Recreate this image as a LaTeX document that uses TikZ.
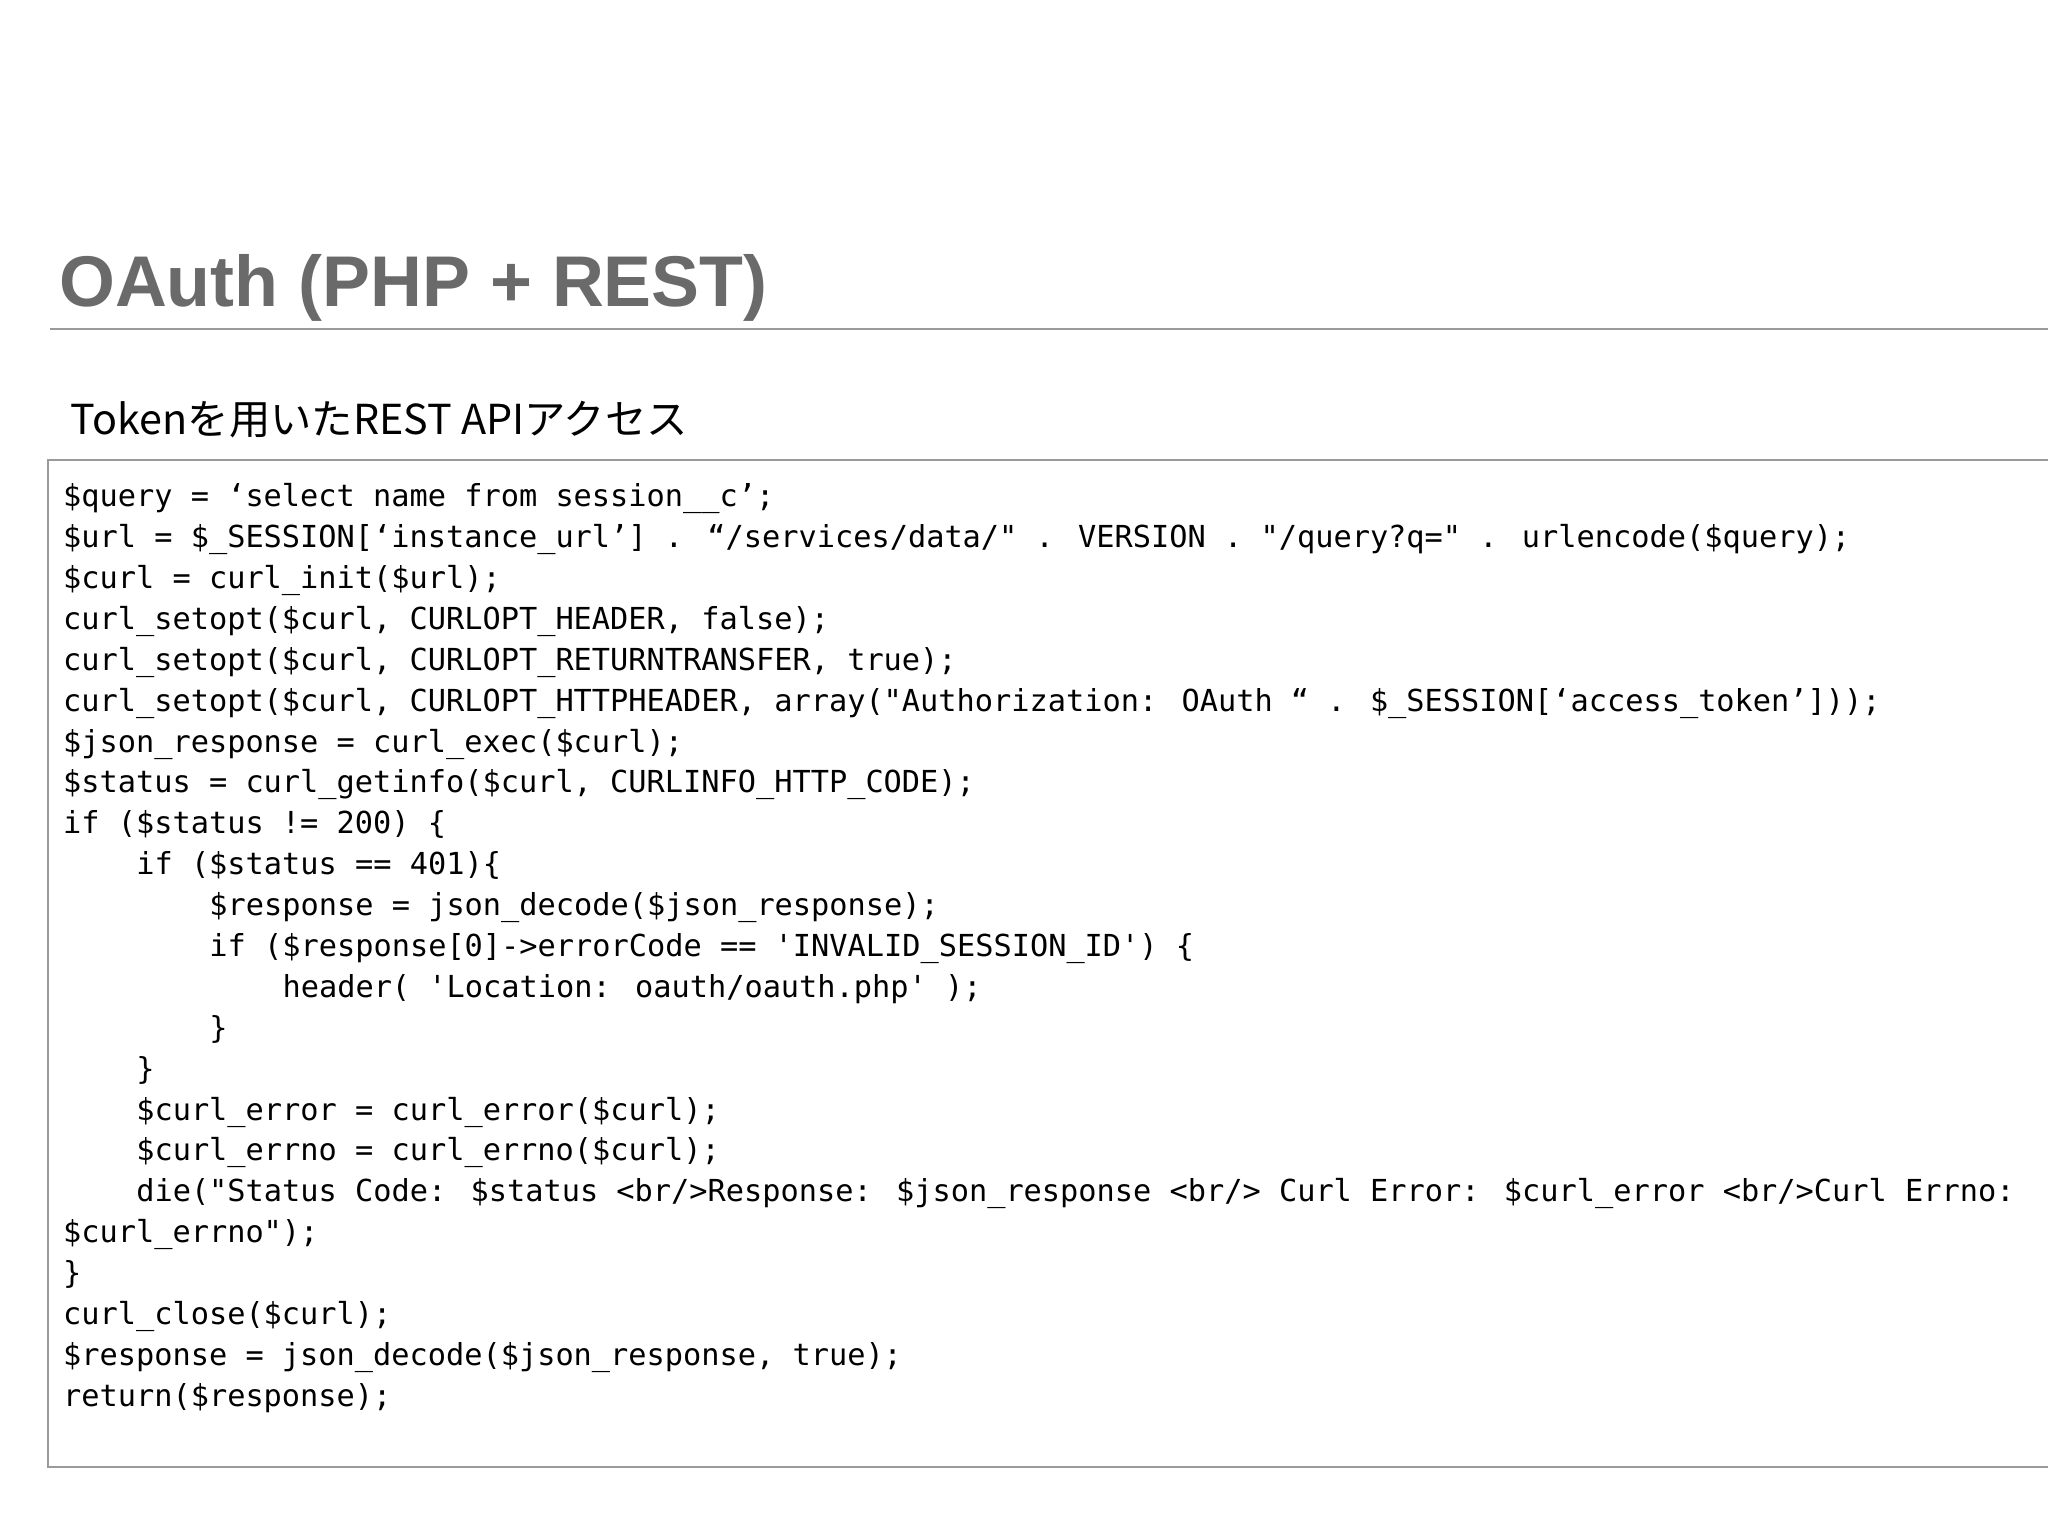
\documentclass[tikz,border=0pt]{standalone}
\usepackage{fontspec}
\setmainfont{Liberation Sans}
\newfontfamily\codefont{DejaVu Sans Mono}[Scale=1.0]
\newfontfamily\jpfont{Noto Sans CJK JP}
\definecolor{titlegray}{HTML}{6A6A6A}
\definecolor{boxgray}{HTML}{9A9A9A}
\begin{document}
\begin{tikzpicture}[x=0.02cm,y=-0.02cm,
  code/.style={anchor=base west,inner sep=0pt,font=\codefont\fontsize{13.2}{16}\selectfont}]
\useasboundingbox (0,0) rectangle (1568,1176);
\fill[white] (0,0) rectangle (1568,1176);
\node[anchor=base west,inner sep=0pt,text=titlegray,font=\bfseries\fontsize{31.3}{36}\selectfont] (title) at (45,235) {OAuth (PHP + REST)};
\draw[boxgray,line width=0.8pt] (38,252) -- (1568,252);
\node[anchor=base west,inner sep=0pt,font=\jpfont\fontsize{18}{22}\selectfont] (sub) at (54,333) {Tokenを用いたREST APIアクセス};
\draw[boxgray,line width=1pt] (1600,352) -- (37,352) -- (37,1123) -- (1600,1123);
\def\L#1#2#3{\node[code] (l#1) at (48+#2*56,388+#1*31.3-31.3) {#3};}
\L{1}{0}{\$query = ‘select name from session\_\_c’;}
\L{2}{0}{\$url = \$\_SESSION[‘instance\_url’] . “/services/data/" . VERSION . "/query?q=" . urlencode(\$query);}
\L{3}{0}{\$curl = curl\_init(\$url);}
\L{4}{0}{curl\_setopt(\$curl, CURLOPT\_HEADER, false);}
\L{5}{0}{curl\_setopt(\$curl, CURLOPT\_RETURNTRANSFER, true);}
\L{6}{0}{curl\_setopt(\$curl, CURLOPT\_HTTPHEADER, array("Authorization: OAuth “ . \$\_SESSION[‘access\_token’]));}
\L{7}{0}{\$json\_response = curl\_exec(\$curl);}
\L{8}{0}{\$status = curl\_getinfo(\$curl, CURLINFO\_HTTP\_CODE);}
\L{9}{0}{if (\$status != 200) \{}
\L{10}{1}{if (\$status == 401)\{}
\L{11}{2}{\$response = json\_decode(\$json\_response);}
\L{12}{2}{if (\$response[0]->errorCode == 'INVALID\_SESSION\_ID') \{}
\L{13}{3}{header( 'Location: oauth/oauth.php' );}
\L{14}{2}{\}}
\L{15}{1}{\}}
\L{16}{1}{\$curl\_error = curl\_error(\$curl);}
\L{17}{1}{\$curl\_errno = curl\_errno(\$curl);}
\L{18}{1}{die("Status Code: \$status <br/>Response: \$json\_response <br/> Curl Error: \$curl\_error <br/>Curl Errno:}
\L{19}{0}{\$curl\_errno");}
\L{20}{0}{\}}
\L{21}{0}{curl\_close(\$curl);}
\L{22}{0}{\$response = json\_decode(\$json\_response, true);}
\L{23}{0}{return(\$response);}
\end{tikzpicture}
\end{document}
